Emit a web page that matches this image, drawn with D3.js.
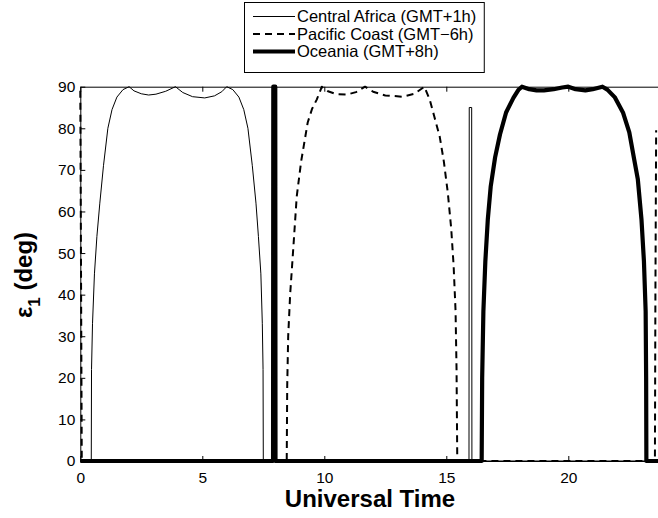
<!DOCTYPE html>
<html>
<head>
<meta charset="utf-8">
<script src="https://cdn.jsdelivr.net/npm/d3@7"></script>
<style>
  body { margin: 0; background: #fff; }
  svg { display: block; font-family: "Liberation Sans", Arial, Helvetica, sans-serif; }
</style>
</head>
<body>
<div id="chart"></div>
<script>
// universal time (h) and elevation (deg)
var centralT = [0, 0.45, 0.46, 0.5, 0.58, 0.68, 0.8, 0.95, 1.13, 1.3, 1.5, 1.75, 2.0, 2.2, 2.5, 2.8, 3.1, 3.5, 3.9, 4.2, 4.6, 5.1, 5.5, 5.8, 6.0, 6.25, 6.5, 6.7, 6.87, 7.05, 7.2, 7.3, 7.4, 7.46, 7.49, 7.5, 15.93, 15.94, 16.04, 16.05, 24];
var centralV = [0, 0, 22, 33, 45, 54, 62, 71, 80, 84.5, 87.5, 89.3, 90, 89.0, 88.3, 88.0, 88.2, 88.9, 90, 88.6, 87.6, 87.3, 87.8, 88.8, 90, 89.3, 87.5, 84.5, 80, 71, 62, 54, 45, 33, 22, 0, 0, 85, 85, 0, 0];

var pacificT = [0, 0.03, 0.06, 8.46, 8.48, 8.52, 8.6, 8.75, 8.87, 9.05, 9.32, 9.5, 9.69, 9.9, 10.15, 10.5, 10.93, 11.3, 11.67, 12.0, 12.5, 13.2, 13.7, 14.1, 14.32, 14.5, 14.73, 14.9, 15.06, 15.2, 15.3, 15.38, 15.42, 15.45, 23.55, 23.57, 23.6];
var pacificV = [89, 45, 0, 0, 18, 30, 40, 53, 63.6, 72, 81.4, 84.7, 86.9, 90, 88.9, 88.2, 88.1, 88.7, 90, 88.8, 87.9, 87.6, 88.3, 90, 86.9, 83, 78, 72, 64.6, 56, 47, 36, 22, 0, 0, 40, 79.5];

var oceaniaT = [0, 7.9, 7.91, 7.99, 8.0, 16.45, 16.47, 16.52, 16.6, 16.7, 16.82, 17.0, 17.2, 17.45, 17.75, 17.95, 18.1, 18.4, 18.7, 19.0, 19.4, 19.75, 20.0, 20.3, 20.7, 21.0, 21.4, 21.6, 21.9, 22.24, 22.5, 22.7, 22.85, 23.0, 23.1, 23.17, 23.19, 23.2, 24];
var oceaniaV = [0, 0, 90, 90, 0, 0, 20, 36, 48, 58, 66, 73, 78.5, 83.8, 87.3, 89.2, 90, 89.4, 89.1, 89.1, 89.4, 89.8, 90, 89.4, 89.1, 89.4, 90, 89.3, 87.5, 83.8, 79, 72.5, 67.7, 58, 48, 36, 20, 0, 0];

var seriesNames = ["Central Africa (GMT+1h)", "Pacific Coast (GMT\u22126h)", "Oceania (GMT+8h)"];
var xTicks = [0, 5, 10, 15, 20];
var yTicks = [0, 10, 20, 30, 40, 50, 60, 70, 80, 90];

var width = 658, height = 518;
var plotLeft = 80.3, plotTop = 86.7, plotBottom = 461;
var plotW = 585.6;

var svg = d3.select("#chart").append("svg")
  .attr("width", width)
  .attr("height", height);

var x = d3.scaleLinear().domain([0, 24]).range([plotLeft, plotLeft + plotW]);
var y = d3.scaleLinear().domain([0, 90]).range([plotBottom, plotTop]);

// axes (drawn under the data, like matlab)
var axes = svg.append("g");

axes.append("g")
  .attr("transform", "translate(0," + plotBottom + ")")
  .call(d3.axisBottom(x).tickValues(xTicks).tickSize(-5).tickSizeOuter(0).tickPadding(10.5));

axes.append("g")
  .attr("transform", "translate(0," + plotTop + ")")
  .call(d3.axisTop(x).tickValues(xTicks).tickSize(-5).tickSizeOuter(0).tickFormat(""));

axes.append("g")
  .attr("transform", "translate(" + plotLeft + ",0)")
  .call(d3.axisLeft(y).tickValues(yTicks).tickSize(-5).tickSizeOuter(0).tickPadding(5));

axes.append("g")
  .attr("transform", "translate(" + (plotLeft + plotW) + ",0)")
  .call(d3.axisRight(y).tickValues(yTicks).tickSize(-5).tickSizeOuter(0).tickFormat(""));

axes.selectAll("g")
  .attr("font-size", 15.5)
  .attr("font-family", "Liberation Sans, Arial, Helvetica, sans-serif");
axes.selectAll("text").attr("fill", "#000");
axes.selectAll("line, path").attr("stroke", "#000");

var line = d3.line()
  .x(function(d) { return x(d[0]); })
  .y(function(d) { return y(d[1]); });

var styles = [
  { w: 1, dash: null },
  { w: 2, dash: "7,5" },
  { w: 4.2, dash: null }
];
var data = [
  d3.zip(centralT, centralV),
  d3.zip(pacificT, pacificV),
  d3.zip(oceaniaT, oceaniaV)
];

svg.selectAll("path.series")
  .data(data)
  .enter()
  .append("path")
  .attr("class", "series")
  .attr("d", line)
  .attr("fill", "none")
  .attr("stroke", "#000")
  .attr("stroke-linejoin", "round")
  .attr("stroke-width", function(d, i) { return styles[i].w; })
  .attr("stroke-dasharray", function(d, i) { return styles[i].dash; });

// axis labels
svg.append("text")
  .attr("x", 370)
  .attr("y", 507)
  .attr("text-anchor", "middle")
  .attr("font-size", 24)
  .attr("font-weight", "bold")
  .text("Universal Time");

var ylab = svg.append("text")
  .attr("transform", "translate(32,275) rotate(-90)")
  .attr("text-anchor", "middle")
  .attr("font-size", 24)
  .attr("font-weight", "bold");
ylab.append("tspan").text("\u03b5");
ylab.append("tspan").attr("font-size", 17).attr("dy", 8).text("1");
ylab.append("tspan").attr("dy", -8).text(" (deg)");

// legend
var leg = svg.append("g");
var legRect = leg.append("rect")
  .attr("x", 244.5)
  .attr("y", 2.5)
  .attr("height", 70)
  .attr("fill", "#fff")
  .attr("stroke", "#000");

var rows = leg.selectAll("g.row")
  .data(seriesNames)
  .enter()
  .append("g")
  .attr("class", "row")
  .attr("transform", function(d, i) { return "translate(0," + (16.5 + i * 17.5) + ")"; });

rows.append("line")
  .attr("x1", 253).attr("x2", 295)
  .attr("stroke", "#000")
  .attr("stroke-width", function(d, i) { return styles[i].w; })
  .attr("stroke-dasharray", function(d, i) { return styles[i].dash; });

rows.append("text")
  .attr("x", 297)
  .attr("dy", "0.35em")
  .attr("font-size", 16.5)
  .text(function(d) { return d; });

var maxW = d3.max(rows.selectAll("text").nodes(), function(n) { return n.getComputedTextLength(); });
legRect.attr("width", 297 + maxW + 8 - 244.5);
</script>
</body>
</html>
